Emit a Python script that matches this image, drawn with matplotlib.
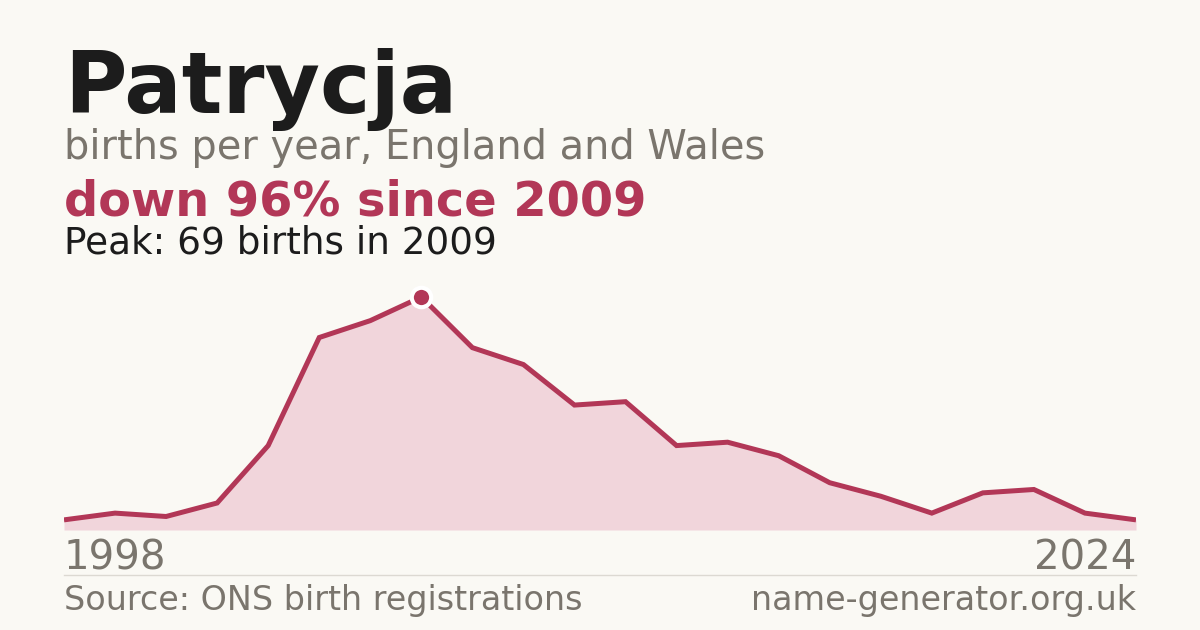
import matplotlib
matplotlib.use("Agg")
import matplotlib.pyplot as plt
import numpy as np

plt.rcParams["font.family"] = ["DejaVu Sans"]

name = "Patrycja"
subtitle = "births per year, England and Wales"
headline = "down 96% since 2009"
peak_text = "Peak: 69 births in 2009"
start_label = "1998"
end_label = "2024"
source_text = "Source: ONS birth registrations"
site_text = "name-generator.org.uk"

births = [3, 5, 4, 8, 25, 57, 62, 69, 54, 49, 37, 38, 25, 26, 22, 14, 10, 5, 11, 12, 5, 3]
peak_index = 7

BG = "#faf9f4"
RED = "#b23757"
FILL = "#f1d5db"
GRAY = "#7a756d"
DARK = "#1c1c1c"

W, H = 1200, 630
fig = plt.figure(figsize=(12, 6.3), dpi=100, facecolor=BG)

def fy(py):
    return 1 - py / H

def fx(px):
    return px / W

ax = fig.add_axes([fx(64), fy(530), fx(1136) - fx(64), (530 - 297) / H])
ax.set_facecolor("none")
x = np.arange(len(births))
ax.fill_between(x, births, 0, color=FILL, lw=0)
ax.plot(x, births, color=RED, lw=3.6, solid_joinstyle="miter", solid_capstyle="butt")
ax.plot([x[peak_index]], [births[peak_index]], marker="o", ms=14, color=RED,
        mec="white", mew=3, clip_on=False, zorder=5)
ax.set_xlim(0, len(births) - 1)
ax.set_ylim(0, max(births))
ax.axis("off")

fig.text(fx(64), fy(113), name, fontsize=61.3, fontweight="bold", color=DARK, va="baseline", ha="left")
fig.text(fx(64), fy(159), subtitle, fontsize=28.7, color=GRAY, va="baseline", ha="left")
fig.text(fx(64), fy(215), headline, fontsize=34.5, fontweight="bold", color=RED, va="baseline", ha="left")
fig.text(fx(64), fy(253), peak_text, fontsize=26.9, color=DARK, va="baseline", ha="left")
fig.text(fx(64), fy(570), start_label, fontsize=29, color=GRAY, va="baseline", ha="left")
fig.text(fx(1136), fy(570), end_label, fontsize=29, color=GRAY, va="baseline", ha="right")
fig.add_artist(plt.Line2D([fx(64), fx(1136)], [fy(574.5), fy(574.5)], color="#dcd9d2", lw=1))
fig.text(fx(64), fy(610), source_text, fontsize=24, color=GRAY, va="baseline", ha="left")
fig.text(fx(1136), fy(610), site_text, fontsize=24, color=GRAY, va="baseline", ha="right")

fig.savefig("out.png", dpi=100, facecolor=BG)
